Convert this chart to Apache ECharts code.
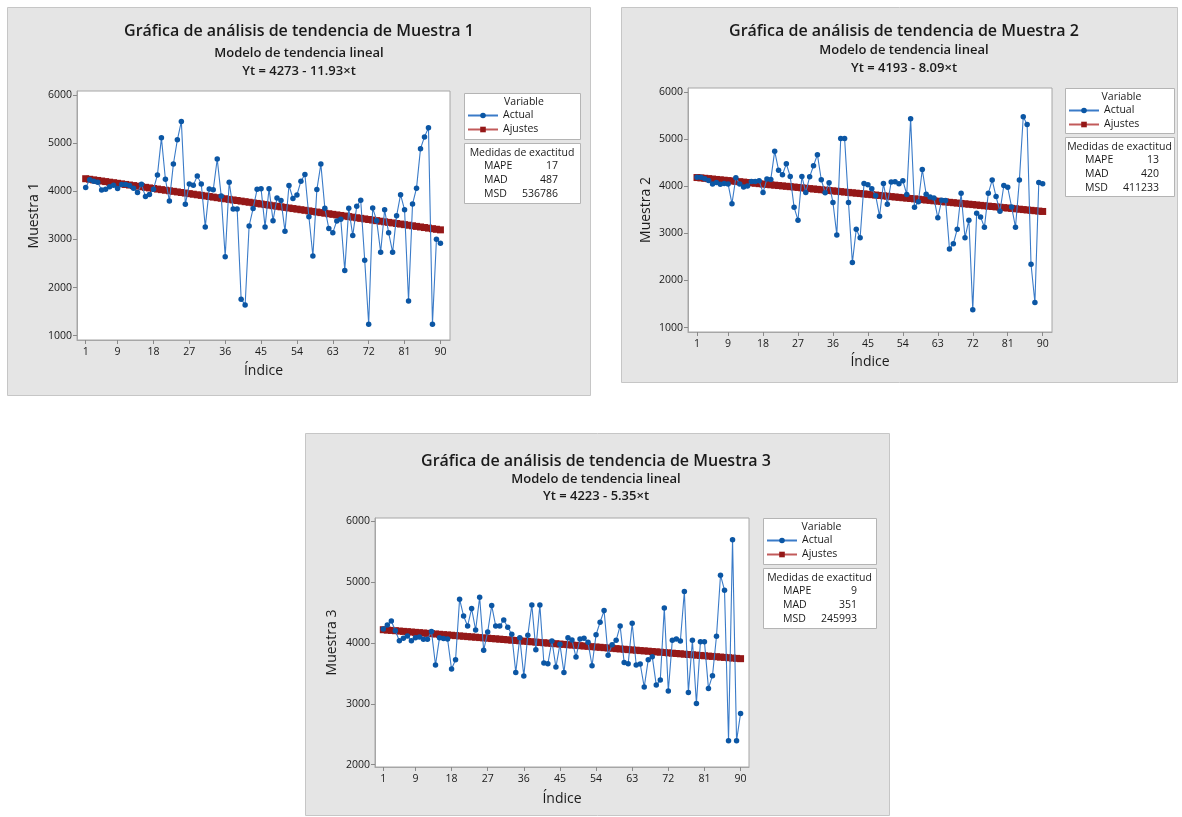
<!DOCTYPE html>
<html>
<head>
<meta charset="utf-8">
<script src="https://cdn.jsdelivr.net/npm/echarts@6/dist/echarts.min.js"></script>
<style>
html,body{margin:0;padding:0;background:#fff;}
#chart{width:1182px;height:817px;}
</style>
</head>
<body>
<div id="chart"></div>
<script>
// ---------- DATA ----------
const indexTicks = [1, 9, 18, 27, 36, 45, 54, 63, 72, 81, 90];
const yTicksA = [1000, 2000, 3000, 4000, 5000, 6000];
const yTicksB = [2000, 3000, 4000, 5000, 6000];

const panelTitles = ['Gráfica de análisis de tendencia de Muestra 1', 'Gráfica de análisis de tendencia de Muestra 2', 'Gráfica de análisis de tendencia de Muestra 3'];
const modelName = 'Modelo de tendencia lineal';
const equations = ['Yt = 4273 - 11.93×t', 'Yt = 4193 - 8.09×t', 'Yt = 4223 - 5.35×t'];
const yNames = ['Muestra 1', 'Muestra 2', 'Muestra 3'];
const xName = 'Índice';
const seriesNames = ['Actual', 'Ajustes'];
const legendTitle = 'Variable';
const measuresTitle = 'Medidas de exactitud';
const measureNames = ['MAPE', 'MAD', 'MSD'];
const mapeValues = [17, 13, 9];
const madValues = [487, 420, 351];
const msdValues = [536786, 411233, 245993];

const muestra1Actual = [4080,4240,4210,4190,4025,4040,4095,4125,4060,4140,
  4140,4120,4065,3975,4145,3890,3935,4040,4340,5110,
  4250,3800,4565,5070,5450,3730,4150,4125,4320,4150,
  3260,4050,4030,4670,3900,2640,4190,3630,3630,1760,
  1640,3280,3640,4040,4055,3260,4055,3390,3860,3810,
  3170,4120,3850,3925,4210,4350,3470,2655,4035,4565,
  3650,3225,3140,3385,3420,2355,3645,3080,3690,3815,
  2570,1240,3655,3390,2735,3615,3140,2735,3490,3930,
  3615,1720,3735,4065,4885,5130,5320,1240,3005,2920];
const muestra1Ajustes = [4261,4249,4237,4225,4213,4201,4189,4178,4166,4154,
  4142,4130,4118,4106,4094,4082,4070,4058,4046,4034,
  4022,4011,3999,3987,3975,3963,3951,3939,3927,3915,
  3903,3891,3879,3867,3855,3844,3832,3820,3808,3796,
  3784,3772,3760,3748,3736,3724,3712,3700,3688,3677,
  3665,3653,3641,3629,3617,3605,3593,3581,3569,3557,
  3545,3533,3521,3509,3498,3486,3474,3462,3450,3438,
  3426,3414,3402,3390,3378,3366,3354,3343,3331,3319,
  3307,3295,3283,3271,3259,3247,3235,3223,3211,3199];

const muestra2Actual = [4190,4190,4160,4120,4050,4080,4045,4060,4050,3630,
  4180,4050,3985,4005,4100,4100,4115,3865,4155,4145,
  4745,4340,4245,4475,4208,3552,3280,4208,3870,4200,
  4435,4670,4138,3860,4073,3655,2968,5015,5015,3655,
  2380,3088,2908,4058,4034,3948,3800,3365,4058,3618,
  4088,4098,4055,4118,3825,5434,3555,3672,4356,3832,
  3770,3750,3330,3705,3698,2670,2780,3088,3850,2908,
  3280,1378,3428,3350,3131,3850,4130,3782,3467,4016,
  3978,3560,3131,4130,5476,5309,2345,1533,4080,4052];
const muestra2Ajustes = [4185,4177,4169,4161,4153,4144,4136,4128,4120,4112,
  4104,4096,4088,4080,4072,4064,4055,4047,4039,4031,
  4023,4015,4007,3999,3991,3983,3975,3966,3958,3950,
  3942,3934,3926,3918,3910,3902,3894,3886,3877,3869,
  3861,3853,3845,3837,3829,3821,3813,3805,3797,3789,
  3780,3772,3764,3756,3748,3740,3732,3724,3716,3708,
  3700,3691,3683,3675,3667,3659,3651,3643,3635,3627,
  3619,3611,3602,3594,3586,3578,3570,3562,3554,3546,
  3538,3530,3522,3513,3505,3497,3489,3481,3473,3465];

const muestra3Actual = [4230,4297,4363,4200,4038,4077,4115,4038,4088,4099,
  4060,4060,4187,3637,4088,4075,4066,3571,3725,4720,
  4445,4280,4566,4214,4753,3879,4181,4615,4280,4280,
  4379,4260,4143,3516,4088,3456,4126,4626,3890,4626,
  3670,3659,4033,3604,3978,3516,4088,4049,3769,4066,
  4077,4011,3626,4137,4341,4533,3797,3973,4044,4280,
  3681,3659,4324,3637,3654,3275,3725,3775,3308,3390,
  4577,3209,4044,4066,4033,4846,3187,4044,3005,4022,
  4022,3253,3462,4110,5115,4868,2390,5698,2390,2841];
const muestra3Ajustes = [4218,4212,4207,4202,4196,4191,4186,4180,4175,4170,
  4164,4159,4153,4148,4143,4137,4132,4127,4121,4116,
  4111,4105,4100,4095,4089,4084,4079,4073,4068,4063,
  4057,4052,4046,4041,4036,4030,4025,4020,4014,4009,
  4004,3998,3993,3988,3982,3977,3972,3966,3961,3956,
  3950,3945,3939,3934,3929,3923,3918,3913,3907,3902,
  3897,3891,3886,3881,3875,3870,3865,3859,3854,3849,
  3843,3838,3832,3827,3822,3816,3811,3806,3800,3795,
  3790,3784,3779,3774,3768,3763,3758,3752,3747,3742];

// ---------- LAYOUT / STYLE ----------
const FONT = '"Open Sans", "Noto Sans", "DejaVu Sans", sans-serif';
const BLUE_LINE = '#3a7bc8';
const BLUE_MARK = '#0b56a4';
const RED_LINE = '#c25a5a';
const RED_MARK = '#951818';
const TEXT = '#1a1a1a';

const panels = [
  { bg: [7, 7, 583, 388], cx: 299, ty: [31, 53, 71],
    grid: [77, 91, 373, 249], xr: [-1.18, 92.4], yr: [911, 6083], yt: yTicksA,
    yGap: 36, xGap: 24, box1: [464, 93, 116, 46], box2: [464, 143, 116, 60],
    actual: muestra1Actual, fit: muestra1Ajustes },
  { bg: [621, 7, 556, 375], cx: 904, ty: [31, 50, 68],
    grid: [688, 88, 364, 244], xr: [-1.32, 92.4], yr: [907, 6085], yt: yTicksA,
    yGap: 35, xGap: 23, box1: [1065, 88, 109, 45], box2: [1065, 137, 109, 59],
    actual: muestra2Actual, fit: muestra2Ajustes },
  { bg: [305, 433, 584, 382], cx: 596, ty: [461, 479, 496],
    grid: [375, 518, 374, 249], xr: [-1.07, 92.1], yr: [1960, 6056], yt: yTicksB,
    yGap: 36, xGap: 25, box1: [763, 518, 113, 46], box2: [763, 568, 113, 60],
    actual: muestra3Actual, fit: muestra3Ajustes }
];

const option = { animation: false, backgroundColor: '#fff', grid: [], xAxis: [], yAxis: [], series: [], legend: [], graphic: { elements: [] } };
const G = option.graphic.elements;
const plain = v => String(Math.round(v));

panels.forEach((p, k) => {
  // panel background
  G.push({ type: 'rect', z: -100, shape: { x: p.bg[0] + 0.5, y: p.bg[1] + 0.5, width: p.bg[2], height: p.bg[3] },
    style: { fill: '#e5e5e5', stroke: '#c6c6c6', lineWidth: 1 } });
  // titles
  G.push({ type: 'text', z: 10, x: p.cx, y: p.ty[0], style: { text: panelTitles[k], font: '600 16px ' + FONT, fill: TEXT, align: 'center', verticalAlign: 'middle' } });
  G.push({ type: 'text', z: 10, x: p.cx, y: p.ty[1], style: { text: modelName, font: '600 13px ' + FONT, fill: TEXT, align: 'center', verticalAlign: 'middle' } });
  G.push({ type: 'text', z: 10, x: p.cx, y: p.ty[2], style: { text: equations[k], font: '600 13px ' + FONT, fill: TEXT, align: 'center', verticalAlign: 'middle' } });
  // legend boxes
  const b1 = p.box1, b2 = p.box2;
  G.push({ type: 'rect', z: 50, shape: { x: b1[0] + 0.5, y: b1[1] + 0.5, width: b1[2], height: b1[3] }, style: { fill: '#fff', stroke: '#b4b4b4', lineWidth: 1 } });
  G.push({ type: 'rect', z: 50, shape: { x: b2[0] + 0.5, y: b2[1] + 0.5, width: b2[2], height: b2[3] }, style: { fill: '#fff', stroke: '#b4b4b4', lineWidth: 1 } });
  G.push({ type: 'text', z: 60, x: b1[0] + b1[2] / 2 + 2, y: b1[1] + 9.5, style: { text: legendTitle, font: '10.5px ' + FONT, fill: TEXT, align: 'center', verticalAlign: 'middle' } });
  G.push({ type: 'text', z: 60, x: b2[0] + b2[2] / 2, y: b2[1] + 10, style: { text: measuresTitle, font: '10.5px ' + FONT, fill: TEXT, align: 'center', verticalAlign: 'middle' } });
  const vals = [mapeValues[k], madValues[k], msdValues[k]];
  measureNames.forEach((m, j) => {
    const yy = b2[1] + 23 + j * 13.8;
    G.push({ type: 'text', z: 60, x: b2[0] + 20, y: yy, style: { text: m, font: '10.5px ' + FONT, fill: TEXT, align: 'left', verticalAlign: 'middle' } });
    G.push({ type: 'text', z: 60, x: b2[0] + 94, y: yy, style: { text: String(vals[j]), font: '10.5px ' + FONT, fill: TEXT, align: 'right', verticalAlign: 'middle' } });
  });

  option.grid.push({ left: p.grid[0], top: p.grid[1], width: p.grid[2], height: p.grid[3], show: true,
    backgroundColor: '#fff', borderColor: '#a6a6a6', borderWidth: 1, containLabel: false });
  option.xAxis.push({ type: 'value', gridIndex: k, min: p.xr[0], max: p.xr[1],
    name: xName, nameLocation: 'middle', nameGap: p.xGap,
    nameTextStyle: { fontFamily: FONT, fontSize: 14, color: TEXT, fontWeight: 500 },
    axisLine: { show: true, onZero: false, lineStyle: { color: '#a6a6a6' } },
    axisTick: { show: true, customValues: indexTicks, length: 4, lineStyle: { color: '#8a8a8a' } },
    axisLabel: { customValues: indexTicks, formatter: plain, fontFamily: FONT, fontSize: 10.5, color: TEXT, margin: 7 },
    splitLine: { show: false } });
  option.yAxis.push({ type: 'value', gridIndex: k, min: p.yr[0], max: p.yr[1],
    name: yNames[k], nameLocation: 'middle', nameGap: p.yGap, nameRotate: 90,
    nameTextStyle: { fontFamily: FONT, fontSize: 14, color: TEXT, fontWeight: 500 },
    axisLine: { show: true, onZero: false, lineStyle: { color: '#a6a6a6' } },
    axisTick: { show: true, customValues: p.yt, length: 4, lineStyle: { color: '#8a8a8a' } },
    axisLabel: { customValues: p.yt, formatter: plain, fontFamily: FONT, fontSize: 10.5, color: TEXT, margin: 5 },
    splitLine: { show: false } });
  option.series.push({ name: seriesNames[1], type: 'line', xAxisIndex: k, yAxisIndex: k, z: 3,
    data: p.fit.map((v, i) => [i + 1, v]), symbol: 'rect', symbolSize: 7, showSymbol: true,
    lineStyle: { color: RED_LINE, width: 1 }, itemStyle: { color: RED_MARK }, emphasis: { disabled: true } });
  option.series.push({ name: seriesNames[0], type: 'line', xAxisIndex: k, yAxisIndex: k, z: 4,
    data: p.actual.map((v, i) => [i + 1, v]), symbol: 'circle', symbolSize: 5.5, showSymbol: true,
    lineStyle: { color: BLUE_LINE, width: 1.1 }, itemStyle: { color: BLUE_MARK }, emphasis: { disabled: true } });
  option.legend.push({ z: 70, left: b1[0] + 3, top: b1[1] + 15.5, orient: 'vertical', padding: 0, itemGap: 0,
    itemWidth: 30, itemHeight: 7, selectedMode: false, data: seriesNames.slice(),
    textStyle: { fontFamily: FONT, fontSize: 10.5, color: TEXT, lineHeight: 14, padding: [0, 0, 0, 0] } });
});

const chart = echarts.init(document.getElementById('chart'), null, { renderer: 'canvas' });
chart.setOption(option);
</script>
</body>
</html>
